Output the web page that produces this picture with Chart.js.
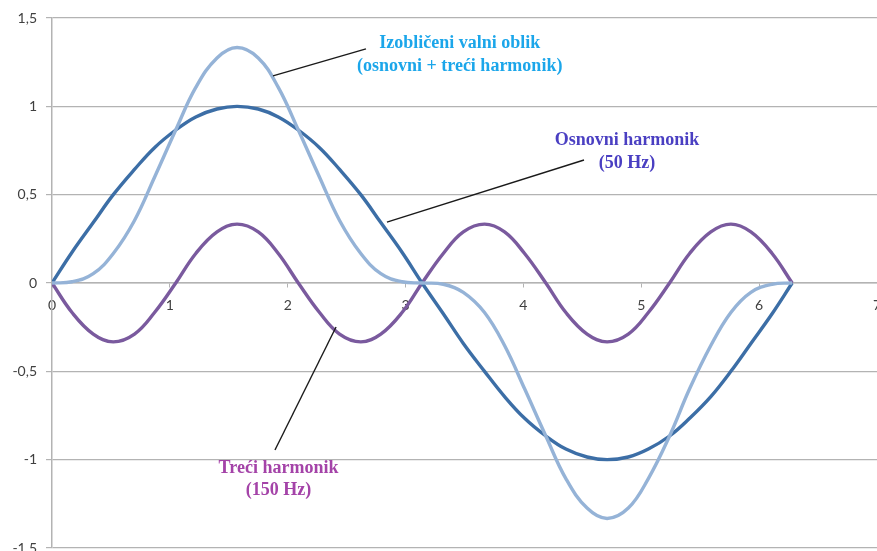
<!DOCTYPE html>
<html>
<head>
<meta charset="utf-8">
<script src="https://cdn.jsdelivr.net/npm/chart.js@4/dist/chart.umd.min.js"></script>
<style>
  html, body { margin: 0; padding: 0; background: #fff; overflow: hidden; }
  #wrap { position: absolute; left: 0; top: 0; width: 900px; height: 575px; }
</style>
</head>
<body>
<div id="wrap"><canvas id="chart" width="900" height="575"></canvas></div>
<script>
// angle in radians, 10 degree steps over one period
const xs = [0, 0.17, 0.35, 0.52, 0.70, 0.87, 1.05, 1.22, 1.40, 1.57, 1.75, 1.92, 2.09, 2.27, 2.44, 2.62, 2.79, 2.97, 3.14,
            3.32, 3.49, 3.67, 3.84, 4.01, 4.19, 4.36, 4.54, 4.71, 4.89, 5.06, 5.24, 5.41, 5.59, 5.76, 5.93, 6.11, 6.28];

// Osnovni harmonik (50 Hz)
const osnovni = [0, 0.174, 0.342, 0.5, 0.643, 0.766, 0.866, 0.94, 0.985, 1, 0.985, 0.94, 0.866, 0.766, 0.643, 0.5, 0.342, 0.174, 0,
                 -0.174, -0.342, -0.5, -0.643, -0.766, -0.866, -0.94, -0.985, -1, -0.985, -0.94, -0.866, -0.766, -0.643, -0.5, -0.342, -0.174, 0];

// Treći harmonik (150 Hz)
const treci = [0, -0.167, -0.289, -0.333, -0.289, -0.167, 0, 0.167, 0.289, 0.333, 0.289, 0.167, 0, -0.167, -0.289, -0.333, -0.289, -0.167, 0,
               0.167, 0.289, 0.333, 0.289, 0.167, 0, -0.167, -0.289, -0.333, -0.289, -0.167, 0, 0.167, 0.289, 0.333, 0.289, 0.167, 0];

// Izobličeni valni oblik (osnovni + treći)
const izoblicen = [0, 0.007, 0.053, 0.167, 0.354, 0.599, 0.866, 1.107, 1.274, 1.333, 1.274, 1.107, 0.866, 0.599, 0.354, 0.167, 0.053, 0.007, 0,
                   -0.007, -0.053, -0.167, -0.354, -0.599, -0.866, -1.107, -1.274, -1.333, -1.274, -1.107, -0.866, -0.599, -0.354, -0.167, -0.053, -0.007, 0];

const xTicks = [0, 1, 2, 3, 4, 5, 6, 7];
const yTicks = [-1.5, -1, -0.5, 0, 0.5, 1, 1.5];

function pts(ys){ return xs.map((x, i) => ({ x: x, y: ys[i] })); }

// text callouts, anchored in data units
const notes = [
  { lines: ['Izobličeni valni oblik', '(osnovni + treći harmonik)'], color: '#1ba6ea',
    at: [3.459, 1.358, 1.228], from: [2.664, 1.325], to: [1.875, 1.172] },
  { lines: ['Osnovni harmonik', '(50 Hz)'], color: '#4a3fc2',
    at: [4.879, 0.809, 0.679], from: [4.514, 0.696], to: [2.842, 0.345] },
  { lines: ['Treći harmonik', '(150 Hz)'], color: '#a443a8',
    at: [1.922, -1.047, -1.172], from: [1.892, -0.945], to: [2.410, -0.249] }
];

const calloutPlugin = {
  id: 'callouts',
  afterDatasetsDraw(chart){
    const ctx = chart.ctx, sx = chart.scales.x, sy = chart.scales.y;
    ctx.save();
    notes.forEach(n => {
      ctx.strokeStyle = '#1a1a1a';
      ctx.lineWidth = 1.4;
      ctx.beginPath();
      ctx.moveTo(sx.getPixelForValue(n.from[0]), sy.getPixelForValue(n.from[1]));
      ctx.lineTo(sx.getPixelForValue(n.to[0]), sy.getPixelForValue(n.to[1]));
      ctx.stroke();
      ctx.fillStyle = n.color;
      ctx.font = 'bold 18px "Liberation Serif", "Times New Roman", serif';
      ctx.textAlign = 'center';
      ctx.textBaseline = 'middle';
      n.lines.forEach((t, i) => {
        ctx.fillText(t, sx.getPixelForValue(n.at[0]), sy.getPixelForValue(n.at[1 + i]));
      });
    });
    ctx.restore();
  }
};

const gridGray = '#b3b3b3';
const tickFont = { family: 'Lato, "Open Sans", sans-serif', size: 14 };

new Chart(document.getElementById('chart'), {
  type: 'line',
  data: {
    datasets: [
      { label: 'Izobličeni valni oblik', data: pts(izoblicen), borderColor: '#95b3d7', borderWidth: 3.4 },
      { label: 'Osnovni harmonik', data: pts(osnovni), borderColor: '#3c6ea6', borderWidth: 3.4 },
      { label: 'Treći harmonik', data: pts(treci), borderColor: '#7a5a9e', borderWidth: 3.4 }
    ]
  },
  options: {
    responsive: false,
    animation: false,
    parsing: false,
    layout: { padding: { top: 18, right: 23, bottom: 27, left: 0 } },
    elements: { point: { radius: 0 }, line: { tension: 0.4, fill: false } },
    plugins: { legend: { display: false }, tooltip: { enabled: false } },
    scales: {
      x: {
        type: 'linear', min: 0, max: 7,
        position: { y: 0 },
        afterBuildTicks: s => { s.ticks = xTicks.map(v => ({ value: v })); },
        ticks: { color: '#404040', font: tickFont, padding: 10, maxRotation: 0 },
        grid: { drawOnChartArea: false, drawTicks: true, tickLength: 4, color: gridGray },
        border: { display: true, color: gridGray, width: 1.5 }
      },
      y: {
        type: 'linear', min: -1.5, max: 1.5,
        afterFit: s => { s.width = 52; },
        afterBuildTicks: s => { s.ticks = yTicks.map(v => ({ value: v })); },
        ticks: { color: '#404040', font: tickFont, padding: 9,
                 callback: v => String(v).replace('.', ',') },
        grid: { color: gridGray, lineWidth: 1.2, tickLength: 6 },
        border: { display: true, color: gridGray, width: 1.5 }
      }
    }
  },
  plugins: [calloutPlugin]
});
</script>
</body>
</html>
